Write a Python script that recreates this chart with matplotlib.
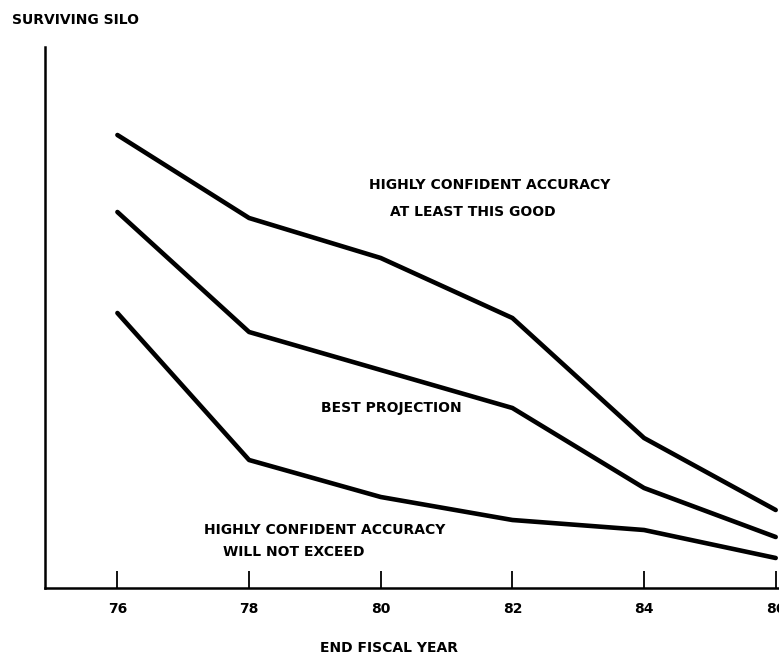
import matplotlib.pyplot as plt

# values (arbitrary units, no y scale shown)
years = [76, 78, 80, 82, 84, 86]
upper_bound = [453, 370, 330, 270, 150, 78]
best_projection = [376, 256, 218, 180, 100, 51]
lower_bound = [275, 128, 91, 68, 58, 30]

plt.rcParams['font.family'] = ['DejaVu Sans']
plt.rcParams['font.weight'] = 'bold'

fig = plt.figure(figsize=(7.79, 6.58), dpi=100)
ax = fig.add_axes([45 / 779, 70 / 658, 734 / 779, 541 / 658])

for series in (upper_bound, best_projection, lower_bound):
    ax.plot(years, series, color='black', lw=3.3, solid_joinstyle='round',
            solid_capstyle='round', clip_on=False)

ax.set_xlim(74.9, 86.05)
ax.set_ylim(0, 541)
ax.set_xticks(years)
ax.set_xticklabels([str(y) for y in years], fontsize=10, fontweight='bold')
ax.set_yticks([])
ax.tick_params(axis='x', direction='in', length=12, width=1.3, pad=10)

for side in ('top', 'right'):
    ax.spines[side].set_visible(False)
for side in ('left', 'bottom'):
    ax.spines[side].set_linewidth(1.8)

text_kw = dict(fontsize=10, fontweight='bold', ha='left', va='center')
ax.text(79.82, 403, 'HIGHLY CONFIDENT ACCURACY', **text_kw)
ax.text(80.14, 376, 'AT LEAST THIS GOOD', **text_kw)
ax.text(79.1, 180, 'BEST PROJECTION', **text_kw)
ax.text(77.31, 58, 'HIGHLY CONFIDENT ACCURACY', **text_kw)
ax.text(77.6, 36, 'WILL NOT EXCEED', **text_kw)

fig.text(12 / 779, 1 - 20 / 658, 'SURVIVING SILO', fontsize=10,
         fontweight='bold', ha='left', va='center')
fig.text(389 / 779, 1 - 648 / 658, 'END FISCAL YEAR', fontsize=10,
         fontweight='bold', ha='center', va='center')

fig.savefig('out.png', dpi=100)
